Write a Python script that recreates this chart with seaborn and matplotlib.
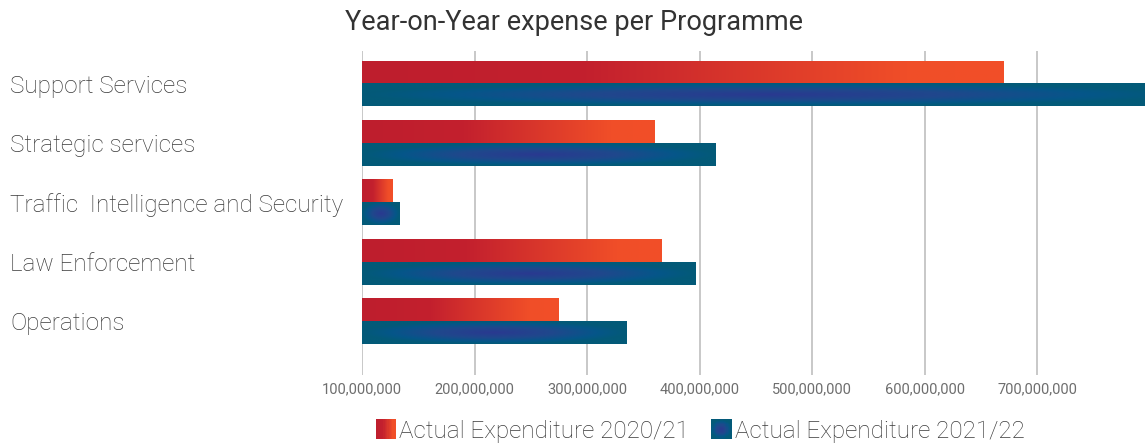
import numpy as np
import pandas as pd
import matplotlib
matplotlib.use("Agg")
import matplotlib.pyplot as plt
import seaborn as sns
from matplotlib.colors import LinearSegmentedColormap
from matplotlib.patches import Rectangle
from matplotlib.legend_handler import HandlerBase
from matplotlib.ticker import FuncFormatter, FixedLocator

# ---- data -------------------------------------------------------------
programmes = [
    "Support Services",
    "Strategic services",
    "Traffic  Intelligence and Security",
    "Law Enforcement",
    "Operations",
]
expenditure_2020_21 = [670e6, 360e6, 127e6, 366e6, 275e6]
expenditure_2021_22 = [825e6, 414e6, 133e6, 396e6, 335e6]
series_names = ["Actual Expenditure 2020/21", "Actual Expenditure 2021/22"]
x_ticks = [100e6, 200e6, 300e6, 400e6, 500e6, 600e6, 700e6]
x_min, x_max = 100e6, 795.6e6

df = pd.DataFrame({
    "Programme": programmes * 2,
    "Expenditure": expenditure_2020_21 + expenditure_2021_22,
    "Series": [series_names[0]] * len(programmes) + [series_names[1]] * len(programmes),
})

# ---- colours ----------------------------------------------------------
red_cmap = LinearSegmentedColormap.from_list(
    "red_grad", [(0.0, "#be1e2d"), (0.35, "#c3202e"), (0.85, "#f04e28"), (1.0, "#f24f28")])
blue_cmap = LinearSegmentedColormap.from_list(
    "blue_grad", [(0.0, "#2a3990"), (0.45, "#1f488c"), (0.78, "#055689"), (1.0, "#035a78")])

sns.set_theme(style="white")
plt.rcParams["font.family"] = ["Roboto", "DejaVu Sans"]

W, H = 1145, 447
fig = plt.figure(figsize=(W / 100, H / 100), dpi=100)
fig.patch.set_facecolor("white")
ax_left, ax_top, ax_bottom = 362.0, 51, 375
ax = fig.add_axes([ax_left / W, 1 - ax_bottom / H, 1 - ax_left / W, (ax_bottom - ax_top) / H])

sns.barplot(data=df, x="Expenditure", y="Programme", hue="Series", orient="h",
            width=0.77, palette=["#c8242c", "#0b5680"], saturation=1,
            legend=False, ax=ax)

ax.set_xlim(x_min, x_max)
ax.set_ylim(4.91, -0.55)

# ---- gradient fills on every bar ---------------------------------------
n_bars = len(programmes)
for i, bar in enumerate(ax.patches):
    x0, y0 = bar.get_x(), bar.get_y()
    w, h = bar.get_width(), bar.get_height()
    left = max(x0, x_min)
    right = x0 + w
    bar.set_facecolor("none")
    bar.set_edgecolor("none")
    if i < n_bars:
        t = np.linspace(0, 1, 256)[None, :]
        img = red_cmap(t)
    else:
        xs = np.linspace(-1, 1, 400)[None, :]
        ys = np.linspace(-1, 1, 60)[:, None]
        d = np.clip(np.sqrt(xs ** 2 + ys ** 2), 0, 1)
        img = blue_cmap(d)
    ax.imshow(img, extent=(left, right, y0 + h, y0), aspect="auto",
              interpolation="bilinear", zorder=2, origin="upper")

ax.set_xlim(x_min, x_max)
ax.set_ylim(4.91, -0.55)

# ---- axes styling -----------------------------------------------------
for s in ax.spines.values():
    s.set_visible(False)
ax.set_xlabel("")
ax.set_ylabel("")
ax.xaxis.set_major_locator(FixedLocator(x_ticks))
ax.xaxis.set_major_formatter(FuncFormatter(lambda v, p: f"{int(v):,}"))
ax.grid(axis="x", color="#c4c4c4", linewidth=1.3)
ax.set_axisbelow(True)
ax.tick_params(axis="x", length=0, pad=5, labelsize=10.5, labelcolor="#6e6e6e")
ax.tick_params(axis="y", length=0, pad=(ax_left - 10) * 72 / 100, labelsize=17.5,
               labelcolor="#3a3a3a")
for lab in ax.get_yticklabels():
    lab.set_horizontalalignment("left")
    lab.set_fontweight("light")

fig.text(0.501, 1 - 22 / H, "Year-on-Year expense per Programme", ha="center",
         va="center", fontsize=19.5, color="#333333")


# ---- legend with gradient swatches ------------------------------------
class GradientSwatch(HandlerBase):
    def __init__(self, kind):
        super().__init__()
        self.kind = kind

    def create_artists(self, legend, orig_handle, xdescent, ydescent,
                       width, height, fontsize, trans):
        artists = []
        n = 16
        x0, y0 = -xdescent, -ydescent
        if self.kind == "linear":
            for k in range(n):
                c = red_cmap((k + 0.5) / n)
                artists.append(Rectangle((x0 + k * width / n, y0), width / n * 1.08, height,
                                         facecolor=c, edgecolor="none", transform=trans))
        else:
            for a in range(n):
                for b in range(n):
                    dx = (a + 0.5) / n * 2 - 1
                    dy = (b + 0.5) / n * 2 - 1
                    c = blue_cmap(min(1.0, np.hypot(dx, dy)))
                    artists.append(Rectangle((x0 + a * width / n, y0 + b * height / n),
                                             width / n * 1.08, height / n * 1.08,
                                             facecolor=c, edgecolor="none", transform=trans))
        return artists


h_red = Rectangle((0, 0), 1, 1)
h_blue = Rectangle((0, 0), 1, 1)
leg = fig.legend([h_red, h_blue], series_names,
                 handler_map={h_red: GradientSwatch("linear"), h_blue: GradientSwatch("radial")},
                 loc="center", bbox_to_anchor=(700 / W, 1 - 431 / H), ncol=2, frameon=False,
                 fontsize=17.5, handlelength=0.85, handleheight=0.85, handletextpad=0.12,
                 columnspacing=0.9, borderpad=0)
for t in leg.get_texts():
    t.set_color("#3a3a3a")
    t.set_fontweight("light")

fig.savefig("out.png", dpi=100, facecolor="white")
